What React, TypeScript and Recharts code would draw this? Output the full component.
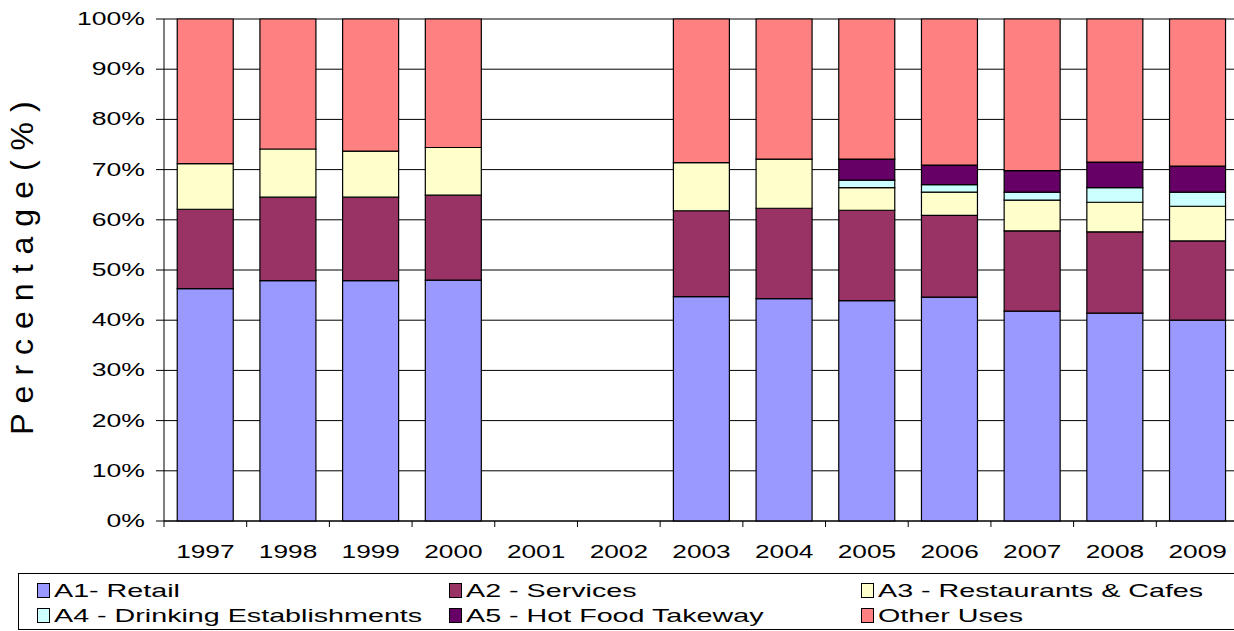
import { Bar, BarChart, CartesianGrid, XAxis, YAxis } from 'recharts';

const years = ['1997', '1998', '1999', '2000', '2001', '2002', '2003', '2004', '2005', '2006', '2007', '2008', '2009'];

const retail = [46.3, 47.9, 47.9, 48.0, null, null, 44.7, 44.3, 43.9, 44.6, 41.8, 41.4, 40.0];
const services = [15.8, 16.6, 16.6, 16.9, null, null, 17.1, 18.0, 18.0, 16.3, 16.0, 16.2, 15.8];
const restaurants = [9.1, 9.6, 9.2, 9.5, null, null, 9.6, 9.8, 4.5, 4.6, 6.1, 5.9, 6.9];
const drinking = [0, 0, 0, 0, null, null, 0, 0, 1.5, 1.5, 1.6, 2.9, 2.8];
const hotFood = [0, 0, 0, 0, null, null, 0, 0, 4.2, 3.9, 4.3, 5.1, 5.2];
const otherUses = [28.8, 25.9, 26.3, 25.6, null, null, 28.6, 27.9, 27.9, 29.1, 30.2, 28.5, 29.3];

const yTicks = [0, 10, 20, 30, 40, 50, 60, 70, 80, 90, 100];

const series = [
  { key: 'a1', name: 'A1- Retail', color: '#9999FF', values: retail },
  { key: 'a2', name: 'A2 - Services', color: '#993366', values: services },
  { key: 'a3', name: 'A3 - Restaurants & Cafes', color: '#FFFFCC', values: restaurants },
  { key: 'a4', name: 'A4 - Drinking Establishments', color: '#CCFFFF', values: drinking },
  { key: 'a5', name: 'A5 - Hot Food Takeway', color: '#660066', values: hotFood },
  { key: 'other', name: 'Other Uses', color: '#FF8080', values: otherUses },
];

const data = years.map((year, i) => {
  const row: Record<string, string | number | null> = { year };
  series.forEach((s) => {
    row[s.key] = s.values[i];
  });
  return row;
});

const CHART_W = 1239;
const CHART_H = 570;
const Y_AXIS_W = 164;
const BAND = (CHART_W - Y_AXIS_W) / years.length;

const FONT = '"Liberation Sans", Arial, sans-serif';

function YTick(props: any) {
  const { x, y, payload } = props;
  return (
    <text
      transform={`translate(${x - 9}, ${y + 6}) scale(1.52, 1)`}
      textAnchor="end"
      fontSize={17.5}
      fontFamily={FONT}
      fill="#000"
    >
      {payload.value}%
    </text>
  );
}

function XTick(props: any) {
  const { x, y, payload } = props;
  return (
    <g>
      <line x1={x - BAND / 2} x2={x - BAND / 2} y1={y - 8} y2={y - 2} stroke="#000" />
      <text
        transform={`translate(${x}, ${y + 29}) scale(1.5, 1)`}
        textAnchor="middle"
        fontSize={17.5}
        fontFamily={FONT}
        fill="#000"
      >
        {payload.value}
      </text>
    </g>
  );
}

function Legend() {
  const rows = [series.slice(0, 3), series.slice(3, 6)];
  return (
    <div
      style={{
        position: 'absolute',
        left: 18,
        top: 573,
        width: 1230,
        height: 55,
        border: '1px solid #000',
        fontFamily: FONT,
        fontSize: 18.5,
      }}
    >
      {rows.map((row, r) => (
        <div key={r} style={{ position: 'absolute', top: 4 + r * 25, left: 0, height: 25, width: '100%' }}>
          {row.map((s, c) => (
            <div
              key={s.key}
              style={{ position: 'absolute', left: 18 + c * 412, top: 0, display: 'flex', alignItems: 'center', height: 25 }}
            >
              <span
                style={{
                  display: 'inline-block',
                  width: 11,
                  height: 13,
                  background: s.color,
                  border: '1px solid #000',
                  marginRight: 4,
                }}
              />
              <span style={{ display: 'inline-block', transform: 'scaleX(1.55)', transformOrigin: 'left center', whiteSpace: 'nowrap' }}>
                {s.name}
              </span>
            </div>
          ))}
        </div>
      ))}
    </div>
  );
}

export default function App() {
  return (
    <div style={{ position: 'absolute', left: 0, top: 0, width: 1234, height: 631, overflow: 'hidden', background: '#fff' }}>
      <BarChart
        width={CHART_W}
        height={CHART_H}
        data={data}
        margin={{ top: 19, right: 0, bottom: 0, left: 0 }}
        barCategoryGap="16%"
      >
        <CartesianGrid vertical={false} stroke="#000" strokeWidth={1} />
        <XAxis
          dataKey="year"
          height={49}
          axisLine={{ stroke: '#000' }}
          tickLine={false}
          tick={<XTick />}
          interval={0}
        />
        <YAxis
          width={Y_AXIS_W}
          domain={[0, 100]}
          ticks={yTicks}
          interval={0}
          axisLine={{ stroke: '#000' }}
          tickLine={{ stroke: '#000' }}
          tickSize={8}
          tick={<YTick />}
        />
        {series.map((s) => (
          <Bar
            key={s.key}
            dataKey={s.key}
            name={s.name}
            stackId="a"
            fill={s.color}
            stroke="#000"
            strokeWidth={1.2}
            isAnimationActive={false}
          />
        ))}
      </BarChart>
      <div
        style={{
          position: 'absolute',
          left: 22,
          top: 263,
          transform: 'translate(-50%, -50%) rotate(-90deg)',
          fontFamily: FONT,
          fontSize: 32,
          letterSpacing: 10,
          whiteSpace: 'nowrap',
          lineHeight: 1,
        }}
      >
        Percentage(%)
      </div>
      <Legend />
    </div>
  );
}
